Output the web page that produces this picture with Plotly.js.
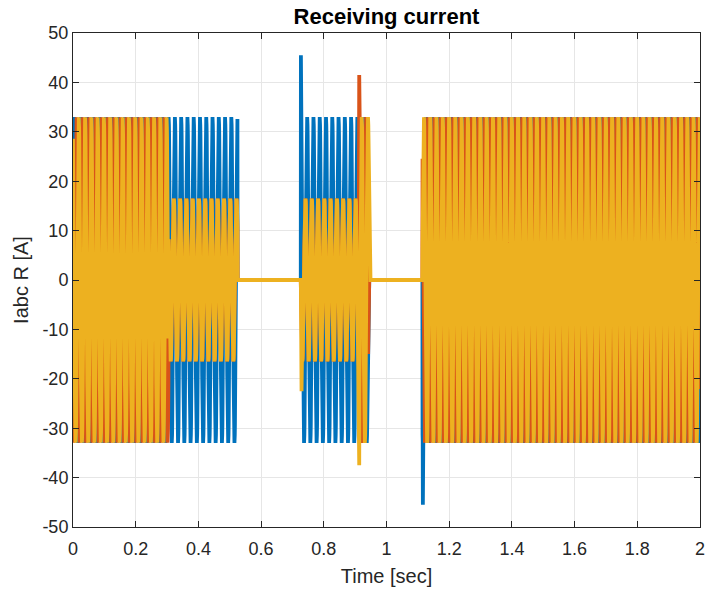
<!DOCTYPE html>
<html><head><meta charset="utf-8">
<script src="https://cdn.plot.ly/plotly-3.0.1.min.js"></script>
<style>html,body{margin:0;padding:0;background:#fff}#chart{width:705px;height:595px}</style>
</head><body><div id="chart"></div>
<script>
// ---- Data ----
const tStart = 0, tEnd = 2.0, sampleStep = 0.0005;
const freqHz = 50;                       // ~20 ms period read from peak spacing
// operating segments [s]
const segStart = [0.000, 0.305, 0.525, 0.727, 0.912, 0.942, 0.946, 1.115];
const segEnd   = [0.305, 0.525, 0.727, 0.912, 0.942, 0.946, 1.115, 2.000];
// peak amplitude per phase per segment [A]
const ampA = [33, 33,   0, 33,   33, 0,  0, 33];
const ampB = [33, 16.5, 0, 16.5, 33, 0,  0, 33];
const ampC = [33, 16.5, 0, 16.5, 33, 33, 0, 33];
// phase angle per phase per segment [deg]
const phA = [0,    0,  0, -36, -36, 0,  0, -18];
const phB = [-120, 60, 0, 60,  180, 0,  0, -138];
const phC = [120,  60, 0, 60,  72,  72, 0, 102];
// transient peaks
const spikeTimeA = [0.727, 1.116], spikeValA = [45.5, -45.5];
const spikeTimeB = [0.913],        spikeValB = [41.5];
const spikeTimeC = [0.729, 0.913], spikeValC = [-22.5, -37.5];
// ticks
const xTickVals = [0, 0.2, 0.4, 0.6, 0.8, 1, 1.2, 1.4, 1.6, 1.8, 2];
const xTickText = ['0', '0.2', '0.4', '0.6', '0.8', '1', '1.2', '1.4', '1.6', '1.8', '2'];
const yTickVals = [-50, -40, -30, -20, -10, 0, 10, 20, 30, 40, 50];
const yTickText = ['-50', '-40', '-30', '-20', '-10', '0', '10', '20', '30', '40', '50'];
const phaseNames = ['Ia', 'Ib', 'Ic'];
const phaseColors = ['#0072BD', '#D95319', '#EDB120'];

// ---- Build series ----
const nSamples = Math.round((tEnd - tStart) / sampleStep) + 1;
const time = [];
for (let i = 0; i < nSamples; i++) time.push(+(tStart + i * sampleStep).toFixed(6));

function segIndex(t) {
  for (let k = 0; k < segStart.length; k++) if (t >= segStart[k] && t < segEnd[k]) return k;
  return segStart.length - 1;
}
function buildPhase(amp, ph, spT, spV) {
  const y = time.map(t => {
    const k = segIndex(t);
    return amp[k] * Math.sin(2 * Math.PI * freqHz * t + ph[k] * Math.PI / 180);
  });
  spT.forEach((t, j) => { y[Math.round((t - tStart) / sampleStep)] = spV[j]; });
  return y;
}
const series = [
  buildPhase(ampA, phA, spikeTimeA, spikeValA),
  buildPhase(ampB, phB, spikeTimeB, spikeValB),
  buildPhase(ampC, phC, spikeTimeC, spikeValC)
];
const traces = series.map((y, i) => ({
  type: 'scatter', mode: 'lines', x: time, y: y, name: phaseNames[i],
  line: {color: phaseColors[i], width: 3.8}, hoverinfo: 'skip'
}));

const axisCommon = {
  showgrid: true, gridcolor: '#e6e6e6', gridwidth: 1, zeroline: false,
  showline: true, linecolor: '#262626', linewidth: 1, mirror: 'ticks',
  ticks: 'inside', ticklen: 6, tickcolor: '#262626', tickwidth: 1,
  tickfont: {size: 18, color: '#262626'}, automargin: false, fixedrange: true,
  ticklabeloverflow: 'allow'
};
const layout = {
  width: 705, height: 595,
  margin: {l: 73, r: 5, t: 33, b: 68},
  paper_bgcolor: '#ffffff', plot_bgcolor: '#ffffff',
  showlegend: false,
  font: {family: '"Liberation Sans", Arial, Helvetica, sans-serif', color: '#262626', size: 18},
  title: {text: '<b>Receiving current</b>', font: {size: 22, color: '#000000'},
          x: 0.5, xref: 'paper', xanchor: 'center', y: 1 - 16 / 595, yref: 'container', yanchor: 'middle'},
  xaxis: Object.assign({}, axisCommon, {range: [-0.000001, 2.000001], tickmode: 'array', tickvals: xTickVals, ticktext: xTickText,
          ticklabelstandoff: 5,
          title: {text: 'Time [sec]', font: {size: 20, color: '#262626'}, standoff: 11}}),
  yaxis: Object.assign({}, axisCommon, {range: [-50, 50], tickmode: 'array', tickvals: yTickVals, ticktext: yTickText,
          title: {text: 'Iabc R [A]', font: {size: 20, color: '#262626'}, standoff: 8}})
};
Plotly.newPlot('chart', traces, layout, {displayModeBar: false, staticPlot: true});
</script>
</body></html>
